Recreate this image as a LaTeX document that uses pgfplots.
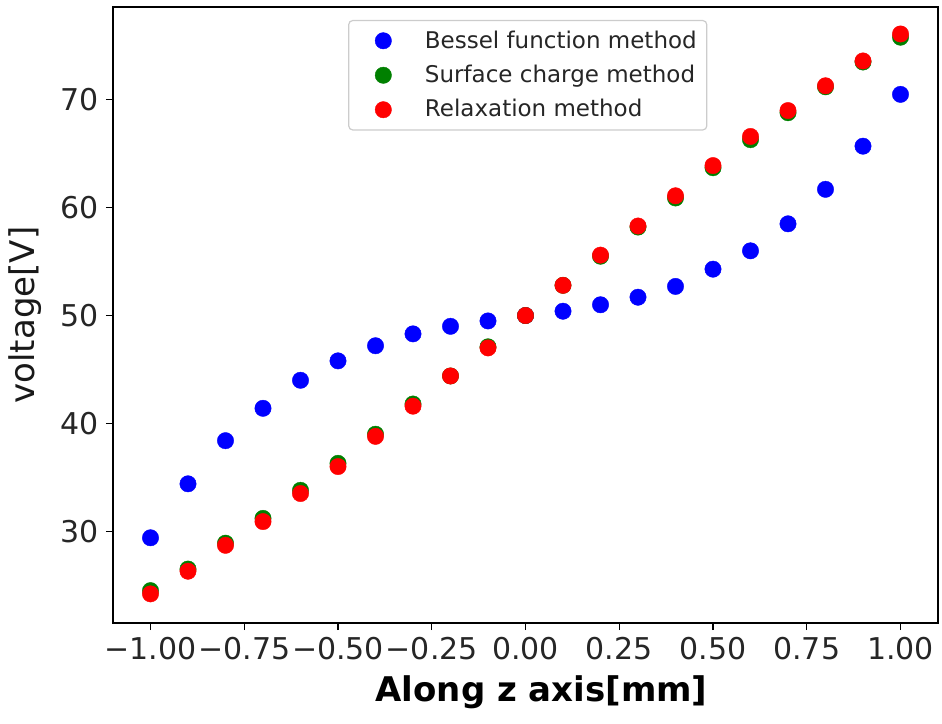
\documentclass[border=0pt]{standalone}
\usepackage{fontspec}
\setmainfont{DejaVu Sans}
\usepackage{pgfplots}
\usepackage{pgfplotstable}
\pgfplotsset{compat=1.18}

% Potential along the z axis, three solution methods
\pgfplotstableread{
z     V
-1.0  29.4
-0.9  34.4
-0.8  38.4
-0.7  41.4
-0.6  44.0
-0.5  45.8
-0.4  47.2
-0.3  48.3
-0.2  49.0
-0.1  49.5
 0.0  50.0
 0.1  50.4
 0.2  51.0
 0.3  51.7
 0.4  52.7
 0.5  54.3
 0.6  56.0
 0.7  58.5
 0.8  61.7
 0.9  65.7
 1.0  70.5
}\bessel

\pgfplotstableread{
z     V
-1.0  24.5
-0.9  26.5
-0.8  28.9
-0.7  31.2
-0.6  33.8
-0.5  36.3
-0.4  39.0
-0.3  41.8
-0.2  44.4
-0.1  47.1
 0.0  50.0
 0.1  52.8
 0.2  55.5
 0.3  58.2
 0.4  60.9
 0.5  63.7
 0.6  66.3
 0.7  68.8
 0.8  71.2
 0.9  73.5
 1.0  75.8
}\surface

\pgfplotstableread{
z     V
-1.0  24.2
-0.9  26.3
-0.8  28.7
-0.7  30.9
-0.6  33.5
-0.5  36.0
-0.4  38.8
-0.3  41.6
-0.2  44.4
-0.1  47.0
 0.0  50.0
 0.1  52.8
 0.2  55.6
 0.3  58.3
 0.4  61.1
 0.5  63.9
 0.6  66.6
 0.7  69.0
 0.8  71.3
 0.9  73.6
 1.0  76.1
}\relaxation

\definecolor{mplblue}{RGB}{0,0,255}
\definecolor{mplgreen}{RGB}{0,128,0}
\definecolor{mplred}{RGB}{255,0,0}

\begin{document}
\begin{tikzpicture}
\begin{axis}[
  scale only axis,
  width=412.5pt, height=308pt,
  xmin=-1.1, xmax=1.1,
  ymin=21.5, ymax=78.6,
  axis line style={line width=0.8pt, black},
  tick align=outside,
  major tick length=3.5pt,
  tick style={line width=0.7pt, black},
  xtick pos=left, ytick pos=left,
  xtick={-1,-0.75,-0.5,-0.25,0,0.25,0.5,0.75,1},
  xticklabels={−1.00,−0.75,−0.50,−0.25,0.00,0.25,0.50,0.75,1.00},
  ytick={30,40,50,60,70},
  /pgf/number format/assume math mode=true,
  ticklabel style={font=\fontsize{15}{17}\selectfont, text=black!85},
  xticklabel style={inner xsep=0pt},
  xlabel={Along z axis[mm]},
  ylabel={voltage[V]},
  xlabel style={font=\fontsize{17}{20}\selectfont\bfseries, inner sep=0pt,
    at={(axis description cs:0.5,0)}, anchor=north, yshift=-26pt, xshift=8pt},
  ylabel style={font=\fontsize{17}{20}\selectfont, inner sep=0pt,
    at={(axis description cs:-0.086,0.5)}, anchor=south, text=black!90},
  legend cell align=left,
  legend image code/.code={%
    \path (-14pt,0pt) (18.5pt,0pt);
    \draw[#1] plot coordinates {(0pt,0pt)};},
  legend style={
    at={(0.285,0.979)}, anchor=north west,
    draw=black!20, line width=0.6pt, rounded corners=2pt, fill=white,
    font=\fontsize{11.5}{13}\selectfont,
    inner xsep=3pt, inner ysep=3pt,
    row sep=3pt,
    nodes={text=black!85, inner xsep=2pt},
  },
  mark size=4.1pt,
]
\addplot[only marks, mark=*, mplblue, mark options={draw=mplblue, fill=mplblue, line width=0.2pt}] table[x=z, y=V] {\bessel};
\addlegendentry{Bessel function method}
\addplot[only marks, mark=*, mplgreen, mark options={draw=mplgreen, fill=mplgreen, line width=0.2pt}] table[x=z, y=V] {\surface};
\addlegendentry{Surface charge method}
\addplot[only marks, mark=*, mplred, mark options={draw=mplred, fill=mplred, line width=0.2pt}] table[x=z, y=V] {\relaxation};
\addlegendentry{Relaxation method}
\end{axis}
% page extent around the axis box
\path (-56.5pt,-50pt) rectangle (414.5pt,311.5pt);
\end{tikzpicture}
\end{document}
